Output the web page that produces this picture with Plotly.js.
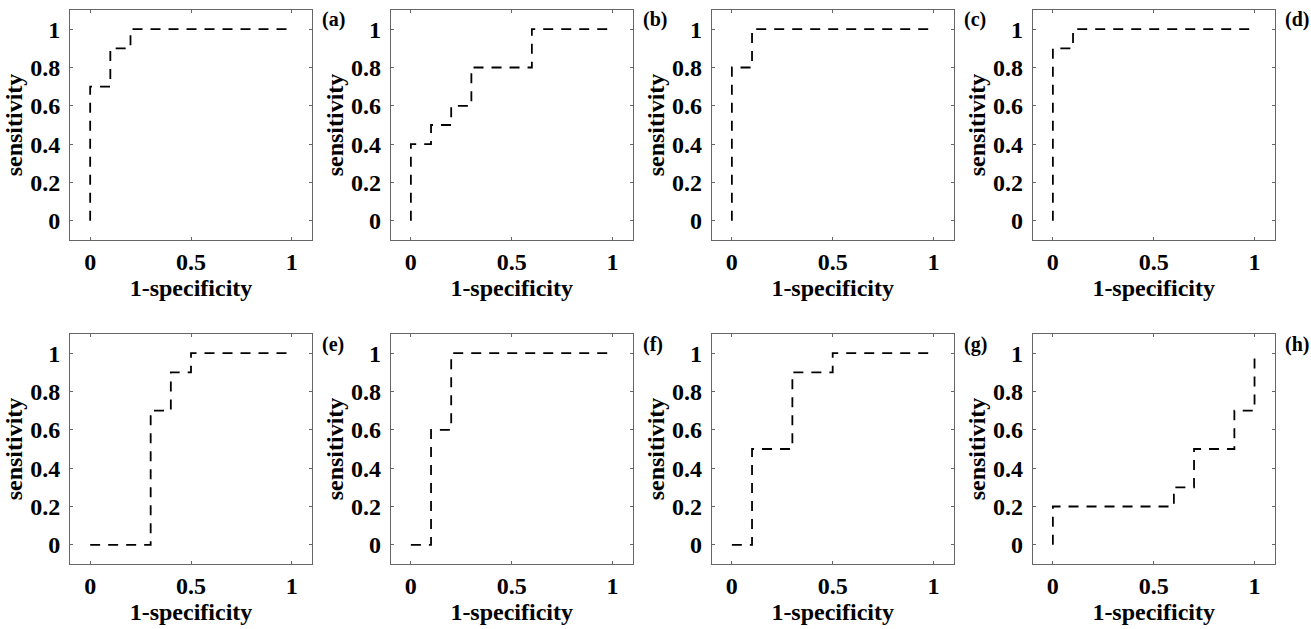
<!DOCTYPE html>
<html>
<head>
<meta charset="utf-8">
<script src="https://cdn.plot.ly/plotly-3.0.1.min.js"></script>
<style>
html,body{margin:0;padding:0;background:#fff;}
#chart{width:1311px;height:629px;}
</style>
</head>
<body>
<div id="chart"></div>
<script>
// ROC curve points (1-specificity, sensitivity), step curves
const panelLabels = ['(a)','(b)','(c)','(d)','(e)','(f)','(g)','(h)'];
const fprA = [0, 0, 0.1, 0.2, 1];
const tprA = [0, 0.7, 0.9, 1, 1];
const fprB = [0, 0, 0.1, 0.2, 0.3, 0.6, 1];
const tprB = [0, 0.4, 0.5, 0.6, 0.8, 1, 1];
const fprC = [0, 0, 0.1, 1];
const tprC = [0, 0.8, 1, 1];
const fprD = [0, 0, 0.1, 1];
const tprD = [0, 0.9, 1, 1];
const fprE = [0, 0.3, 0.4, 0.5, 1];
const tprE = [0, 0.7, 0.9, 1, 1];
const fprF = [0, 0.1, 0.2, 1];
const tprF = [0, 0.6, 1, 1];
const fprG = [0, 0.1, 0.3, 0.5, 1];
const tprG = [0, 0.5, 0.9, 1, 1];
const fprH = [0, 0, 0.6, 0.7, 0.9, 1];
const tprH = [0, 0.2, 0.3, 0.5, 0.7, 1];
const xTickVals = [0, 0.5, 1];
const xTickText = ['0', '0.5', '1'];
const yTickVals = [0, 0.2, 0.4, 0.6, 0.8, 1];
const yTickText = ['0', '0.2', '0.4', '0.6', '0.8', '1'];
const xTitle = '1-specificity';
const yTitle = 'sensitivity';

const series = [[fprA,tprA],[fprB,tprB],[fprC,tprC],[fprD,tprD],[fprE,tprE],[fprF,tprF],[fprG,tprG],[fprH,tprH]];

const W = 1311, H = 629;
const lefts = [70, 390.7, 711.7, 1032.7];
const pw = 242;
const rows = [[10, 240], [334, 564]];
const font = 'Liberation Serif';

const data = [];
const layout = {
  width: W, height: H,
  margin: {l:0, r:0, t:0, b:0},
  paper_bgcolor: '#fff', plot_bgcolor: '#fff',
  showlegend: false,
  font: {family: font, color: '#000'},
  annotations: []
};

series.forEach((s, i) => {
  const n = i + 1;
  const col = i % 4, row = Math.floor(i / 4);
  const xa = n === 1 ? 'x' : 'x' + n;
  const ya = n === 1 ? 'y' : 'y' + n;
  data.push({
    x: s[0], y: s[1], xaxis: xa, yaxis: ya,
    type: 'scatter', mode: 'lines',
    line: {shape: 'hv', color: '#000', width: 1.8, dash: '10px,8px'},
    hoverinfo: 'skip'
  });
  const x0 = lefts[col], x1 = lefts[col] + pw;
  const [t, b] = rows[row];
  const common = {
    showline: true, mirror: 'ticks', linecolor: '#666', linewidth: 1,
    ticks: 'inside', ticklen: 3, tickcolor: '#666', tickwidth: 1,
    showgrid: false, zeroline: false, fixedrange: true,
    range: [-0.1, 1.1]
  };
  layout['xaxis' + (n === 1 ? '' : n)] = Object.assign({}, common, {
    domain: [x0 / W, x1 / W], anchor: ya,
    tickvals: xTickVals, ticktext: xTickText,
    tickfont: {family: font, size: 24, color: '#000', weight: 'bold'},
    ticklabelstandoff: 0,
    title: {text: '<b>' + xTitle + '</b>', font: {family: font, size: 24, color: '#000'}, standoff: 0}
  });
  layout['yaxis' + (n === 1 ? '' : n)] = Object.assign({}, common, {
    domain: [1 - b / H, 1 - t / H], anchor: xa,
    tickvals: yTickVals, ticktext: yTickText,
    tickfont: {family: font, size: 24, color: '#000', weight: 'bold'},
    ticklabelstandoff: 4,
    title: {text: '<b>' + yTitle + '</b>', font: {family: font, size: 24, color: '#000'}, standoff: 0}
  });
  layout.annotations.push({
    text: '<b>' + panelLabels[i] + '</b>',
    xref: 'paper', yref: 'paper',
    x: (x1 + 8) / W, y: 1 - (t + 10) / H,
    xanchor: 'left', yanchor: 'middle', showarrow: false,
    font: {family: font, size: 20, color: '#000'}
  });
});

Plotly.newPlot('chart', data, layout, {displayModeBar: false, staticPlot: true});
</script>
</body>
</html>
